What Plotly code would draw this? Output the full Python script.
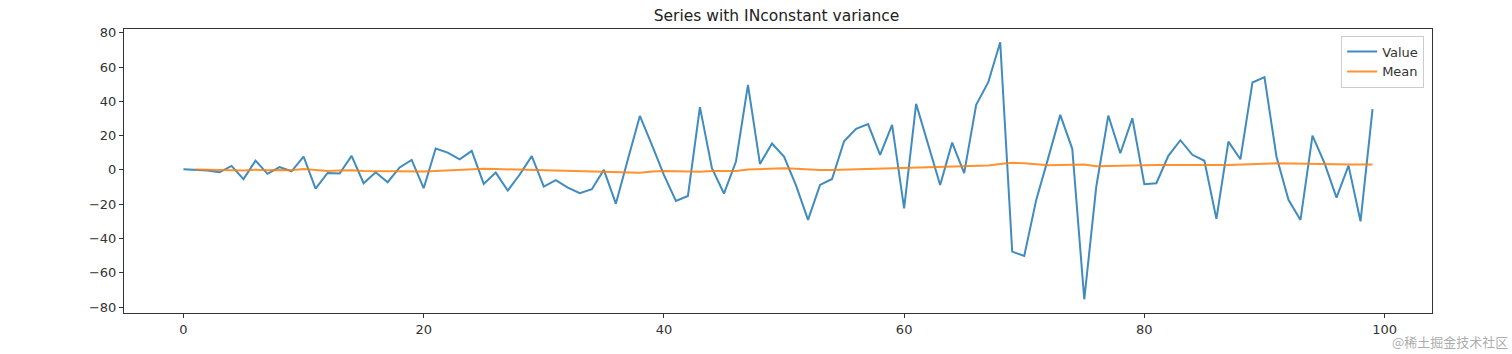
import plotly.graph_objects as go

x_index = list(range(100))

value = [0.3, 0.0, -0.4, -1.4, 2.3, -5.4, 5.4, -2.3, 1.6, -0.8,
         7.8, -10.9, -1.8, -2.1, 8.2, -7.8, -1.4, -7.2, 1.4, 5.8,
         -10.7, 12.5, 10.1, 6.2, 11.1, -8.2, -1.6, -12.1, -2.7, 8.0,
         -9.7, -6.0, -10.3, -13.6, -11.3, 0.0, -19.7, 6.0, 31.5, 14.6,
         -2.9, -18.1, -15.2, 36.6, 1.0, -13.8, 4.9, 49.6, 3.5, 15.4,
         7.8, -9.0, -29.2, -8.8, -5.3, 16.7, 23.9, 26.7, 8.8, 26.3,
         -22.4, 38.5, 14.8, -8.8, 15.9, -1.9, 38.0, 51.0, 74.5, -47.7,
         -50.2, -17.5, 7.0, 32.1, 12.3, -75.5, -9.7, 31.7, 9.7, 30.1,
         -8.4, -7.8, 8.2, 17.3, 8.8, 5.3, -28.6, 16.5, 6.2, 51.0,
         54.1, 7.8, -17.5, -29.2, 20.0, 3.9, -16.2, 2.5, -30.0, 35.4]

mean = [None, 0.2, 0.1, -0.2, 0.1, -0.3, 0.1, -0.2, 0.0, -0.2,
        0.5, 0.0, -0.6, -0.4, -0.2, -0.6, -0.7, -0.9, -0.8, -0.7,
        -1.0, -0.7, -0.3, 0.1, 0.4, 0.6, 0.5, 0.3, 0.2, 0.1,
        0.0, -0.3, -0.4, -0.6, -0.9, -1.0, -1.4, -1.7, -1.6, -1.0,
        -0.6, -0.8, -1.0, -1.1, -0.7, -0.5, -0.7, 0.2, 0.5, 0.8,
        1.0, 0.6, 0.2, -0.1, 0.0, 0.2, 0.4, 0.7, 0.9, 1.1,
        1.2, 1.3, 1.6, 1.9, 2.0, 2.0, 2.2, 2.6, 3.4, 4.2,
        3.8, 3.1, 2.7, 2.8, 2.9, 3.2, 2.1, 2.3, 2.6, 2.6,
        2.7, 2.8, 2.9, 2.8, 2.9, 2.9, 2.8, 2.9, 3.0, 3.1,
        3.6, 3.9, 3.7, 3.5, 3.4, 3.3, 3.3, 3.2, 3.2, 3.1]

x_ticks = [0, 20, 40, 60, 80, 100]
y_ticks = [-80, -60, -40, -20, 0, 20, 40, 60, 80]

title_text = "Series with INconstant variance"
watermark = "@稀土掘金技术社区"

fig = go.Figure()
fig.add_trace(go.Scatter(x=x_index, y=value, mode="lines", name="Value",
                         line=dict(color="#1f77b4", width=2), opacity=0.85))
fig.add_trace(go.Scatter(x=x_index, y=mean, mode="lines", name="Mean",
                         line=dict(color="#ff7f0e", width=2), opacity=0.85))

axis_common = dict(showline=True, linecolor="#333333", linewidth=1, mirror=True,
                   ticks="outside", ticklen=4, tickcolor="#333333", showgrid=False,
                   zeroline=False, tickfont=dict(family="DejaVu Sans", size=13, color="#333333"))

fig.update_layout(
    width=1512, height=354,
    margin=dict(l=124, r=80, t=29, b=41),
    paper_bgcolor="white", plot_bgcolor="white",
    title=dict(text=title_text, x=(124 + 1432) / 2 / 1512 - 0.001, xanchor="center",
               y=1 - 16 / 354, yanchor="middle",
               font=dict(family="DejaVu Sans", size=15.5, color="#222222")),
    xaxis=dict(range=[-4.95, 103.95], tickvals=x_ticks, **axis_common),
    yaxis=dict(range=[-83.5, 82.2], tickvals=y_ticks, **axis_common),
    legend=dict(x=0.994, xanchor="right", y=0.977, yanchor="top",
                bgcolor="rgba(255,255,255,0.8)", bordercolor="#cccccc", borderwidth=1,
                font=dict(family="DejaVu Sans", size=13, color="#333333")),
    showlegend=True,
    annotations=[dict(text=watermark, xref="paper", yref="paper",
                      x=1.0 + (1510 - 1432) / 1308, xanchor="right",
                      y=-(353 - 313) / 284, yanchor="bottom", showarrow=False,
                      font=dict(family="Noto Sans CJK SC", size=13, color="rgba(150,150,150,0.8)"))],
)

fig.write_html("out.html")
